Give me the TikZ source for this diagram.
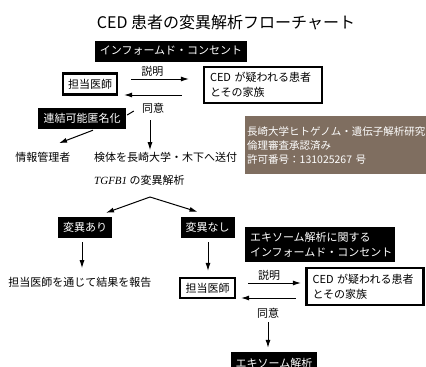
\documentclass[tikz,border=0pt]{standalone}
\usepackage{fontspec}
\setmainfont{Noto Sans CJK JP}
\newfontfamily\genefont{Liberation Serif}
\usetikzlibrary{arrows.meta,calc}
\definecolor{ethicbrown}{RGB}{127,110,96}

\begin{document}
\begin{tikzpicture}[x=1pt,y=-1pt,font=\fontsize{11}{15}\selectfont]
  \tikzstyle{dark}=[fill=black,text=white,inner xsep=5pt,inner ysep=0pt,minimum height=21pt]
  \tikzstyle{framed}=[draw=black,line width=2.2pt,fill=white,inner xsep=5pt,inner ysep=0pt,minimum height=21pt]
  \tikzstyle{plain}=[inner sep=1pt]
  \tikzstyle{arr}=[-{Latex[length=8pt,width=5pt]},line width=1pt]
  \useasboundingbox (0,0) rectangle (426,367);

  \node[font=\fontsize{16}{18}\selectfont] (Title) at (226,22) {CED 患者の変異解析フローチャート};

  % first consent
  \node[dark,minimum width=152pt] (IC_1) at (171,51) {インフォームド・コンセント};
  \node[framed,minimum width=54pt] (Doc_1) at (90,84) {担当医師};
  \node[framed,minimum width=118pt,minimum height=36pt,text width=106pt,align=left] (CED_1) at (263,85)
        {CED が疑われる患者\\とその家族};
  \draw[arr] ($(Doc_1.east)+(13,-5)$) -- ($(CED_1.west)+(-14,-6)$)
        node[plain,pos=0.37,above=1pt] (Exp_1) {説明};
  \draw[arr] ($(CED_1.west)+(-21,10)$) -- ($(Doc_1.east)+(6,11)$);
  \node[plain] (Agr_1) at (153,108) {同意};

  \node[dark,minimum width=88pt] (Anon) at (82,118.5) {連結可能匿名化};
  \draw[line width=1pt] ($(Agr_1.west)+(-7,3)$) -- ($(Anon.east)+(1,-3.5)$);
  \node[plain] (Info) at (43,157) {情報管理者};
  \draw[arr] ($(Anon.south)+(11,1)$) -- ($(Info.north)+(16,-7.5)$);

  \node[plain,anchor=west] (Send) at (93,157) {検体を長崎大学・木下へ送付};
  \node[plain,anchor=west] (Anal) at (93,180) {{\genefont\itshape TGFB1} の変異解析};
  \draw[arr] ($(Agr_1.south)+(-3,6)$) -- ($(Agr_1.south |- Send.north)+(-3,-0.5)$);

  \node[fill=ethicbrown,text=white,anchor=north west,minimum width=185pt,minimum height=58pt,
        text width=181pt,inner xsep=2pt,inner ysep=0pt,align=left,font=\fontsize{10.5}{14}\selectfont] (Ethic) at (245,116)
        {長崎大学ヒトゲノム・遺伝子解析研究\\倫理審査承認済み\\許可番号：131025267 号};

  % result branches
  \coordinate (Split) at (150,197);
  \node[dark,minimum width=54pt] (MutA) at (85,227.5) {変異あり};
  \node[dark,minimum width=51pt] (MutN) at (207.5,227.5) {変異なし};
  \draw[arr] (Split) -- ($(MutA.north)+(21,-4)$);
  \draw[arr] (Split) -- ($(MutN.north)+(-10,-5)$);

  \node[plain] (Report) at (80,282) {担当医師を通じて結果を報告};
  \draw[arr] ($(MutA.south)+(-3,4)$) -- ($(MutA.south |- Report.north)+(-3,-7.5)$);

  \node[dark,minimum width=150pt,minimum height=35pt,text width=140pt,align=left] (IC_2) at (320,244.5)
        {エキソーム解析に関する\\インフォームド・コンセント};

  % second consent
  \node[framed,minimum width=55pt,minimum height=20pt] (Doc_2) at (207.5,288) {担当医師};
  \draw[arr] ($(MutN.south)+(0.5,4)$) -- ($(Doc_2.north)+(0.5,-6)$);
  \node[framed,minimum width=117pt,minimum height=37pt,text width=105pt,align=left] (CED_2) at (365,286.5)
        {CED が疑われる患者\\とその家族};
  \draw[arr] ($(Doc_2.east)+(12,-5)$) -- ($(CED_2.west)+(-4.5,-3.5)$)
        node[plain,pos=0.4,above=1pt] (Exp_2) {説明};
  \draw[arr] ($(CED_2.west)+(-9.5,11.5)$) -- ($(Doc_2.east)+(5,10)$);
  \node[plain] (Agr_2) at (268,313) {同意};

  \node[dark,minimum width=82pt,minimum height=22pt] (Exo) at (274,363) {エキソーム解析};
  \draw[arr] ($(Agr_2.south)+(0,3)$) -- ($(Agr_2.south |- Exo.north)+(0,-4)$);
\end{tikzpicture}
\end{document}
